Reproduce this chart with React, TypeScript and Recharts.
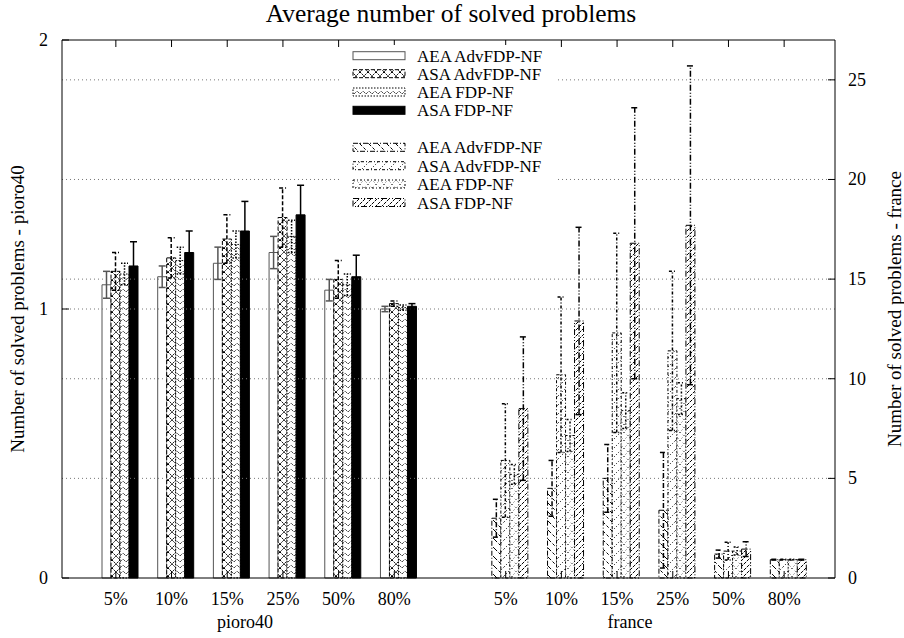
import React from "react";
import { BarChart, Bar, XAxis, YAxis, ErrorBar, ReferenceLine } from "recharts";

const FONT = "'Liberation Serif', 'Times New Roman', serif";

const categories = ["5%", "10%", "15%", "25%", "50%", "80%"];
const seriesNames = ["AEA AdvFDP-NF", "ASA AdvFDP-NF", "AEA FDP-NF", "ASA FDP-NF"];

// pioro40 (left axis)
const pioroAeaAdv = [1.09, 1.12, 1.17, 1.21, 1.07, 1.0];
const pioroAeaAdvErr = [0.05, 0.04, 0.06, 0.06, 0.04, 0.01];
const pioroAsaAdv = [1.14, 1.19, 1.26, 1.34, 1.11, 1.02];
const pioroAsaAdvErr = [0.07, 0.075, 0.09, 0.11, 0.07, 0.01];
const pioroAeaFdp = [1.13, 1.18, 1.24, 1.27, 1.09, 1.005];
const pioroAeaFdpErr = [0.04, 0.05, 0.05, 0.06, 0.04, 0.01];
const pioroAsaFdp = [1.16, 1.21, 1.29, 1.35, 1.12, 1.01];
const pioroAsaFdpErr = [0.09, 0.08, 0.11, 0.11, 0.08, 0.01];

// france (right axis)
const franceAeaAdv = [3.0, 4.5, 5.0, 3.4, 1.2, 0.92];
const franceAeaAdvErr = [0.95, 1.4, 1.7, 2.9, 0.2, 0.02];
const franceAsaAdv = [5.9, 10.2, 12.3, 11.4, 1.35, 0.92];
const franceAsaAdvErr = [2.85, 3.9, 5.0, 4.0, 0.45, 0.02];
const franceAeaFdp = [5.2, 7.15, 8.4, 9.0, 1.35, 0.92];
const franceAeaFdpErr = [0.5, 0.8, 0.9, 0.8, 0.2, 0.02];
const franceAsaFdp = [8.5, 12.9, 16.8, 17.7, 1.45, 0.92];
const franceAsaFdpErr = [3.6, 4.7, 6.8, 8.0, 0.37, 0.02];

const leftTicks = [0, 1, 2];
const rightTicks = [0, 5, 10, 15, 20, 25];

const pioro = [pioroAeaAdv, pioroAsaAdv, pioroAeaFdp, pioroAsaFdp];
const pioroErr = [pioroAeaAdvErr, pioroAsaAdvErr, pioroAeaFdpErr, pioroAsaFdpErr];
const france = [franceAeaAdv, franceAsaAdv, franceAeaFdp, franceAsaFdp];
const franceErr = [franceAeaAdvErr, franceAsaAdvErr, franceAeaFdpErr, franceAsaFdpErr];

const data: any[] = [
  ...categories.map((c, i) => {
    const row: any = { key: "pioro40|" + c };
    pioro.forEach((s, k) => {
      row["l" + k] = s[i];
      row["l" + k + "e"] = pioroErr[k][i];
    });
    return row;
  }),
  { key: "gap|" },
  ...categories.map((c, i) => {
    const row: any = { key: "france|" + c };
    france.forEach((s, k) => {
      row["r" + k] = s[i];
      row["r" + k + "e"] = franceErr[k][i];
    });
    return row;
  }),
];

const leftStyles = [
  { fill: "#fff", stroke: "#555", dash: undefined as string | undefined },
  { fill: "url(#pl1)", stroke: "#000", dash: "4 2" },
  { fill: "url(#pl2)", stroke: "#000", dash: "1.5 1.5" },
  { fill: "#000", stroke: "#000", dash: undefined },
];
const rightStyles = [
  { fill: "url(#pr0)", stroke: "#000", dash: "5 2 1 2" },
  { fill: "url(#pr1)", stroke: "#000", dash: "3 2 1 2" },
  { fill: "url(#pr2)", stroke: "#000", dash: "2 2 1 2" },
  { fill: "url(#pr3)", stroke: "#000", dash: "6 2 1 2 1 2" },
];

const BottomTick = (props: any) => {
  const { x, y, payload } = props;
  const label = String(payload.value).split("|")[1];
  if (!label) return <g />;
  const tx = x - 5;
  return (
    <g>
      <line x1={tx} y1={y} x2={tx} y2={y - 7} stroke="#000" />
      <text x={tx} y={y + 27} textAnchor="middle" fontSize={18} fontFamily={FONT} fill="#000">
        {label}
      </text>
    </g>
  );
};

const TopTick = (props: any) => {
  const { x, y, payload } = props;
  const label = String(payload.value).split("|")[1];
  if (!label) return <g />;
  return <line x1={x - 5} y1={y} x2={x - 5} y2={y + 7} stroke="#000" />;
};

const LeftTick = (props: any) => {
  const { x, y, payload } = props;
  return (
    <g>
      <line x1={x} y1={y} x2={x + 7} y2={y} stroke="#000" />
      <text x={x - 14} y={y + 6} textAnchor="end" fontSize={18} fontFamily={FONT} fill="#000">
        {payload.value}
      </text>
    </g>
  );
};

const RightTick = (props: any) => {
  const { x, y, payload } = props;
  return (
    <g>
      <line x1={x} y1={y} x2={x - 7} y2={y} stroke="#000" />
      <text x={x + 13} y={y + 6} textAnchor="start" fontSize={18} fontFamily={FONT} fill="#000">
        {payload.value}
      </text>
    </g>
  );
};

function Patterns() {
  return (
    <defs>
      <pattern id="pl1" patternUnits="userSpaceOnUse" width="8" height="8">
        <rect width="8" height="8" fill="#fff" />
        <path d="M0,0L8,8M8,0L0,8" stroke="#000" strokeWidth="1" strokeDasharray="2 1" />
      </pattern>
      <pattern id="pl2" patternUnits="userSpaceOnUse" width="6" height="6">
        <rect width="6" height="6" fill="#fff" />
        <path d="M0,4L3,1L6,4" stroke="#000" strokeWidth="1" strokeDasharray="1 1" fill="none" />
      </pattern>
      <pattern id="pr0" patternUnits="userSpaceOnUse" width="9" height="9">
        <rect width="9" height="9" fill="#fff" />
        <path d="M0,0L9,9" stroke="#000" strokeWidth="1" strokeDasharray="3 2" />
      </pattern>
      <pattern id="pr1" patternUnits="userSpaceOnUse" width="9" height="9">
        <rect width="9" height="9" fill="#fff" />
        <path d="M0,9L9,0" stroke="#000" strokeWidth="1" strokeDasharray="1 2" />
      </pattern>
      <pattern id="pr2" patternUnits="userSpaceOnUse" width="8" height="8">
        <rect width="8" height="8" fill="#fff" />
        <path d="M0,0L8,8M8,0L0,8" stroke="#000" strokeWidth="0.8" strokeDasharray="1 3" />
      </pattern>
      <pattern id="pr3" patternUnits="userSpaceOnUse" width="6" height="6">
        <rect width="6" height="6" fill="#fff" />
        <path d="M0,6L6,0" stroke="#000" strokeWidth="1" strokeDasharray="3 1" />
      </pattern>
    </defs>
  );
}

function Overlay() {
  const rows = [55.7, 73.7, 92, 110.3, 147.3, 165.7, 184, 202.5];
  const styles = [...leftStyles, ...rightStyles];
  return (
    <svg
      width={904}
      height={638}
      style={{ position: "absolute", left: 0, top: 0, pointerEvents: "none" }}
    >
      <text x={451} y={22} textAnchor="middle" fontSize={25.5} fontFamily={FONT}>
        Average number of solved problems
      </text>
      <text
        transform="translate(24,309) rotate(-90)"
        textAnchor="middle"
        fontSize={19}
        fontFamily={FONT}
      >
        Number of solved problems - pioro40
      </text>
      <text
        transform="translate(901,309) rotate(-90)"
        textAnchor="middle"
        fontSize={19}
        fontFamily={FONT}
      >
        Number of solved problems - france
      </text>
      <text x={245} y={628} textAnchor="middle" fontSize={18} fontFamily={FONT}>
        pioro40
      </text>
      <text x={630} y={628} textAnchor="middle" fontSize={18} fontFamily={FONT}>
        france
      </text>
      <rect x={342} y={45} width={216} height={166} fill="#fff" />
      {rows.map((ry, i) => {
        const st = styles[i];
        return (
          <g key={i}>
            <rect
              x={353}
              y={ry - 4}
              width={52}
              height={8}
              fill={st.fill}
              stroke={st.stroke}
              strokeDasharray={st.dash}
            />
            <text x={417} y={ry + 6} fontSize={17} fontFamily={FONT}>
              {seriesNames[i % 4]}
            </text>
          </g>
        );
      })}
    </svg>
  );
}

export default function App() {
  return (
    <div style={{ position: "absolute", left: 0, top: 0, width: 904, height: 638, background: "#fff" }}>
      <BarChart
        width={904}
        height={638}
        data={data}
        margin={{ top: 30, right: 14, bottom: 20, left: 7 }}
        barGap={0}
        barCategoryGap={9}
      >
        <Patterns />
        <XAxis
          dataKey="key"
          xAxisId={0}
          interval={0}
          padding={{ left: 31, right: 18 }}
          height={40}
          tickSize={0}
          tickMargin={0}
          tickLine={false}
          axisLine={{ stroke: "#000" }}
          tick={<BottomTick />}
        />
        <XAxis
          dataKey="key"
          xAxisId="top"
          orientation="top"
          interval={0}
          padding={{ left: 31, right: 18 }}
          height={10}
          tickSize={0}
          tickMargin={0}
          tickLine={false}
          axisLine={{ stroke: "#000" }}
          tick={<TopTick />}
        />
        <YAxis
          yAxisId="left"
          domain={[0, 2]}
          ticks={leftTicks}
          interval={0}
          width={55}
          tickSize={0}
          tickMargin={0}
          tickLine={false}
          axisLine={{ stroke: "#000" }}
          tick={<LeftTick />}
        />
        <YAxis
          yAxisId="right"
          orientation="right"
          domain={[0, 27]}
          ticks={rightTicks}
          interval={0}
          width={55}
          tickSize={0}
          tickMargin={0}
          tickLine={false}
          axisLine={{ stroke: "#000" }}
          tick={<RightTick />}
        />
        <ReferenceLine yAxisId="left" y={1} stroke="#777" strokeDasharray="1 3" />
        {rightTicks.slice(1).map((t) => (
          <ReferenceLine key={t} yAxisId="right" y={t} stroke="#777" strokeDasharray="1 3" />
        ))}
        {[0, 1, 2, 3].flatMap((k) => [
          <Bar
            key={"l" + k}
            dataKey={"l" + k}
            yAxisId="left"
            stackId={"s" + k}
            fill={leftStyles[k].fill}
            stroke={leftStyles[k].stroke}
            strokeDasharray={leftStyles[k].dash}
            isAnimationActive={false}
          >
            <ErrorBar
              dataKey={"l" + k + "e"}
              width={3.5}
              stroke={k === 0 ? "#555" : "#000"}
              strokeDasharray={leftStyles[k].dash}
            />
          </Bar>,
          <Bar
            key={"r" + k}
            dataKey={"r" + k}
            yAxisId="right"
            stackId={"s" + k}
            fill={rightStyles[k].fill}
            stroke={rightStyles[k].stroke}
            strokeDasharray={rightStyles[k].dash}
            isAnimationActive={false}
          >
            <ErrorBar
              dataKey={"r" + k + "e"}
              width={3.5}
              stroke="#000"
              strokeDasharray={rightStyles[k].dash}
            />
          </Bar>,
        ])}
      </BarChart>
      <Overlay />
    </div>
  );
}
